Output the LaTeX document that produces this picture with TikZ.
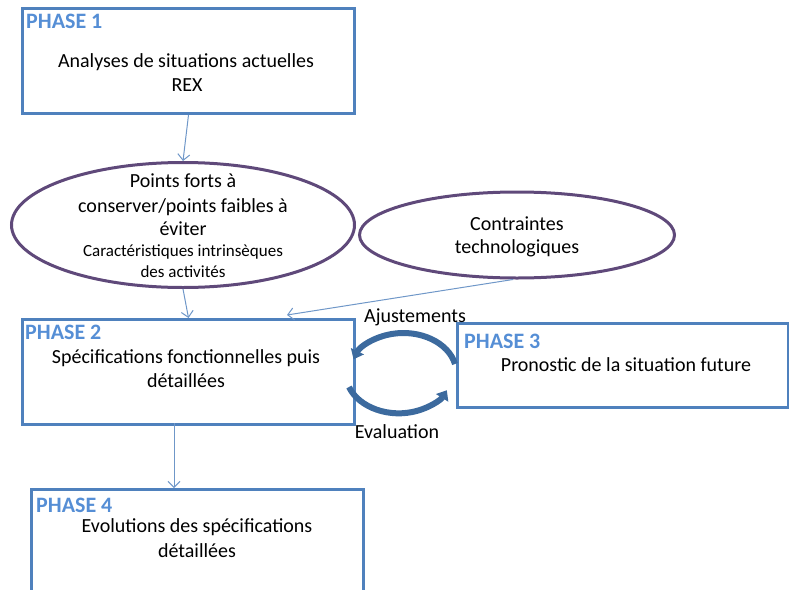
\documentclass[tikz,border=0pt]{standalone}
\usepackage{fontspec}
\setmainfont{Carlito}
\usetikzlibrary{shapes.geometric,arrows.meta}
\definecolor{boxblue}{HTML}{4F81BD}
\definecolor{phaseblue}{HTML}{558ED5}
\definecolor{ellpurple}{HTML}{5F497A}
\definecolor{cycblue}{HTML}{3C6A9E}
\definecolor{arrblue}{HTML}{6F97C8}
\begin{document}
\begin{tikzpicture}[x=1pt,y=-1pt,
 box/.style={draw=boxblue,line width=3pt,rectangle,inner sep=0,anchor=north west},
 oval/.style={draw=ellpurple,line width=3pt,ellipse,inner sep=0},
 ptxt/.style={font=\fontsize{22}{26}\selectfont\bfseries,text=phaseblue,anchor=base west,inner sep=0},
 btxt/.style={font=\fontsize{20}{24}\selectfont,anchor=base,inner sep=0},
 stxt/.style={font=\fontsize{17}{20}\selectfont,anchor=base,inner sep=0},
 arr/.style={draw=arrblue,line width=1pt,-{Straight Barb[length=6pt,width=12pt]}},
 cyc/.style={draw=cycblue,line width=6pt,-{Triangle[length=9pt,width=14pt]}}]
\useasboundingbox (0,0) rectangle (789,589);
\clip (0,0) rectangle (789,589);

% boxes
\node[box,minimum width=332,minimum height=105] (p1) at (21,7) {};
\node[box,minimum width=332,minimum height=105] (p2) at (21,318) {};
\node[box,minimum width=331,minimum height=84] (p3) at (456,322) {};
\node[box,minimum width=332,minimum height=130] (p4) at (30,488) {};

% ellipses
\node[oval,minimum width=343,minimum height=125] (e1) at (183,225) {};
\node[oval,minimum width=315,minimum height=86] (e2) at (517,235) {};

% phase labels
\node[ptxt] (l1) at (26,28) {PHASE 1};
\node[ptxt] (l2) at (25,339) {PHASE 2};
\node[ptxt] (l3) at (464,348) {PHASE 3};
\node[ptxt] (l4) at (36,512) {PHASE 4};

% box texts
\node[btxt] (t1a) at (186,67) {Analyses de situations actuelles};
\node[btxt] (t1b) at (187,91) {REX};
\node[btxt] (t2a) at (186,363) {Spécifications fonctionnelles puis};
\node[btxt] (t2b) at (186,387) {détaillées};
\node[btxt] (t3a) at (626,371) {Pronostic de la situation future};
\node[btxt] (t4a) at (197,532) {Evolutions des spécifications};
\node[btxt] (t4b) at (197,557) {détaillées};

% ellipse texts
\node[btxt] (e1a) at (183,187) {Points forts à};
\node[btxt] (e1b) at (183,212) {conserver/points faibles à};
\node[btxt] (e1c) at (183,235) {éviter};
\node[stxt] (e1d) at (183,256) {Caractéristiques intrinsèques};
\node[stxt] (e1e) at (183,277) {des activités};
\node[btxt] (e2a) at (517,230) {Contraintes};
\node[btxt] (e2b) at (517,253) {technologiques};

% cycle labels
\node[btxt] (aj) at (415,322) {Ajustements};
\node[btxt] (ev) at (397,438) {Evaluation};

% connectors
\coordinate (c23) at (287,315);
\coordinate (c24) at (174,423);
\draw[arr] (p1.south) -- (e1.north);
\draw[arr] (e1.south) -- (p2.north);
\draw[arr] (e2.265) -- (c23);
\draw[arr] (c24) -- (c24 |- p4.north);

% cycle arrows
\coordinate (cyc1) at (455,364);
\coordinate (cyc2) at (349,387);
\draw[cyc] (cyc1) arc[start angle=-13,end angle=-160,x radius=53,y radius=40];
\draw[cyc] (cyc2) arc[start angle=160,end angle=25,x radius=53,y radius=40];
\end{tikzpicture}
\end{document}
